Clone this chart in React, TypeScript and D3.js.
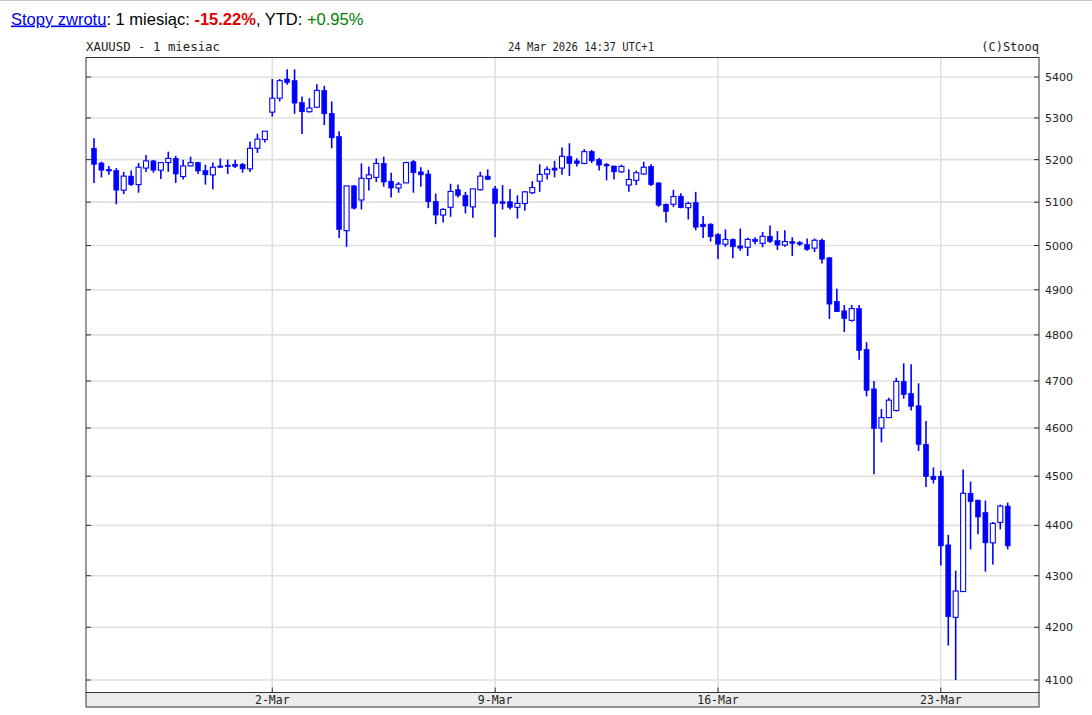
import React from "react";
import * as d3 from "d3";

// 4-hour candles, XAUUSD, 24 Feb – 24 Mar 2026
const opens = [5227,5192,5177,5174,5128,5161,5141,5180,5197,5175,5193,5203,5160,5185,5193,5174,5164,5185,5187,5189,5189,5178,5227,5248,
  5314,5348,5395,5391,5337,5315,5326,5367,5311,5255,5034,5138,5105,5155,5158,5191,5149,5133,5145,5195,5171,5166,5102,5070,5088,5129,5116,5089,5129,5161,
  5131,5101,5101,5088,5097,5122,5149,5166,5180,5180,5208,5197,5191,5219,5200,5189,5185,5171,5140,5151,5166,5184,5145,5095,5095,5114,5087,5099,5049,5049,
  5025,5003,5014,4999,4996,5014,5005,5021,5011,5001,5009,5007,5002,4994,5012,4972,4874,4853,4832,4858,4768,4683,4600,4622,4637,4699,4673,4647,4566,4500,
  4500,4361,4219,4269,4465,4451,4426,4365,4406,4439];
const highs = [5251,5195,5185,5180,5171,5174,5192,5211,5199,5193,5219,5209,5200,5207,5195,5188,5193,5203,5200,5200,5192,5243,5262,5268,
  5395,5395,5419,5419,5352,5348,5382,5378,5340,5268,5138,5140,5191,5184,5203,5207,5169,5147,5195,5199,5182,5175,5120,5086,5143,5141,5124,5131,5171,5177,
  5138,5140,5131,5116,5126,5149,5189,5184,5197,5229,5239,5203,5225,5223,5204,5192,5185,5188,5177,5174,5195,5189,5147,5097,5129,5121,5101,5124,5068,5051,
  5028,5037,5016,5039,5018,5019,5031,5046,5033,5035,5019,5010,5016,5016,5016,4974,4902,4866,4866,4866,4784,4700,4640,4664,4707,4738,4736,4695,4615,4518,
  4511,4381,4310,4514,4489,4452,4450,4407,4442,4446];
const lows = [5145,5158,5164,5095,5119,5138,5122,5171,5169,5154,5171,5145,5153,5184,5166,5141,5130,5182,5166,5180,5169,5171,5216,5241,
  5303,5340,5381,5310,5261,5313,5326,5283,5227,5017,4997,5083,5083,5127,5147,5136,5111,5122,5145,5122,5136,5086,5049,5053,5066,5111,5074,5064,5127,5153,
  5019,5083,5083,5062,5080,5119,5124,5153,5158,5164,5161,5184,5189,5192,5174,5151,5153,5169,5124,5140,5164,5138,5089,5053,5089,5086,5060,5035,5017,5009,
  4969,4997,4971,4988,4976,5003,4996,5006,4990,4997,4976,4999,4988,4985,4959,4835,4851,4806,4829,4746,4667,4504,4570,4621,4635,4662,4637,4552,4478,4485,
  4320,4165,4100,4269,4352,4382,4308,4322,4392,4352];
const closes = [5189,5175,5173,5128,5161,5141,5182,5197,5175,5193,5203,5166,5185,5193,5173,5164,5182,5183,5185,5184,5178,5227,5249,5268,
  5348,5391,5386,5336,5315,5324,5367,5310,5252,5037,5138,5086,5156,5164,5191,5147,5133,5142,5193,5169,5164,5101,5070,5083,5125,5116,5091,5131,5161,5153,
  5097,5097,5088,5097,5124,5134,5165,5177,5175,5208,5191,5191,5219,5197,5187,5185,5171,5184,5153,5169,5182,5141,5093,5078,5113,5087,5097,5042,5043,5020,
  5003,5014,4997,4994,5014,5009,5021,5009,5001,5009,5005,5003,4991,5012,4969,4868,4851,4836,4858,4766,4680,4599,4622,4659,4699,4671,4646,4566,4499,4493,
  4359,4220,4270,4465,4448,4417,4365,4404,4439,4359];

const dateTickIndex = [24, 54, 84, 114];
const dateTickLabels = ["2-Mar", "9-Mar", "16-Mar", "23-Mar"];
const priceTicks = [5400,5300,5200,5100,5000,4900,4800,4700,4600,4500,4400,4300,4200,4100];

const W = 1092, H = 715;
const L = 86, R = 1039, T = 57.5, B = 692.5, BAND = 707;
const BLUE = "#0000ff";

export default function App() {
  const idx = d3.range(opens.length);
  const x = d3.scaleLinear().domain([0, opens.length - 1]).range([94, 1007.7]);
  const y = d3.scaleLog().domain([4100, 5400]).range([680, 77]);
  const bw = 5;

  return (
    <svg width={W} height={H} style={{ position: "absolute", left: 0, top: 0, background: "#fff" }}
      xmlns="http://www.w3.org/2000/svg">
      <line x1={0} x2={W} y1={0.5} y2={0.5} stroke="#c8c8c8" />
      {/* header */}
      <text x={11} y={24.5} fontFamily="'Liberation Sans', Arial, sans-serif" fontSize={16.5} fill="#000">
        <tspan fill="#0000ee" textDecoration="underline" style={{ textDecoration: "underline" }}>Stopy zwrotu</tspan>
        <tspan>: 1 miesiąc: </tspan>
        <tspan fill="#e00000" fontWeight="bold">-15.22%</tspan>
        <tspan>, YTD: </tspan>
        <tspan fill="#008000">+0.95%</tspan>
      </text>
      {/* title row */}
      <g fontFamily="'DejaVu Sans Mono', monospace" fontSize={12} fill="#222">
        <text x={L} y={51} textLength={134} lengthAdjust="spacingAndGlyphs">XAUUSD - 1 miesiac</text>
        <text x={581} y={51} textAnchor="middle" textLength={146} lengthAdjust="spacingAndGlyphs">24 Mar 2026 14:37 UTC+1</text>
        <text x={R} y={51} textAnchor="end">(C)Stooq</text>
      </g>
      {/* grid */}
      <g stroke="#e0e0e0" strokeWidth={1.6}>
        {priceTicks.map((p) => (
          <line key={p} x1={L} x2={R} y1={y(p)} y2={y(p)} />
        ))}
        {dateTickIndex.map((i) => (
          <line key={i} x1={x(i)} x2={x(i)} y1={T} y2={B} />
        ))}
      </g>
      {/* x band */}
      <rect x={L} y={B} width={R - L} height={BAND - B} fill="#ececec" stroke="#333" strokeWidth={1} />
      <g fontFamily="'DejaVu Sans Mono', monospace" fontSize={11.5} fill="#222">
        {dateTickIndex.map((i, k) => (
          <g key={i}>
            <line x1={x(i)} x2={x(i)} y1={B - 5} y2={B} stroke="#333" />
            <text x={x(i)} y={704} textAnchor="middle">{dateTickLabels[k]}</text>
          </g>
        ))}
      </g>
      {/* candles */}
      <g>
        {idx.map((i) => {
          const o = opens[i], c = closes[i];
          const up = c >= o;
          const yt = y(Math.max(o, c));
          const yb = y(Math.min(o, c));
          const h = Math.max(yb - yt, 1.5);
          return (
            <g key={i}>
              <line x1={x(i)} x2={x(i)} y1={y(highs[i])} y2={y(lows[i])} stroke={BLUE} strokeWidth={1.6} />
              <rect x={x(i) - bw / 2} y={yt} width={bw} height={h}
                fill={up ? "#ffffff" : BLUE} stroke={BLUE} strokeWidth={up ? 1.1 : 0.6} />
            </g>
          );
        })}
      </g>
      {/* frame */}
      <rect x={L} y={T} width={R - L} height={B - T} fill="none" stroke="#333" strokeWidth={1} />
      {/* y axis */}
      <g fontFamily="'DejaVu Sans', Verdana, sans-serif" fontSize={11} fill="#222">
        {priceTicks.map((p) => (
          <g key={p}>
            <line x1={R - 5} x2={R} y1={y(p)} y2={y(p)} stroke="#333" />
            <line x1={L} x2={L + 5} y1={y(p)} y2={y(p)} stroke="#333" />
            <text x={1045} y={y(p) + 4}>{p}</text>
          </g>
        ))}
      </g>
    </svg>
  );
}
